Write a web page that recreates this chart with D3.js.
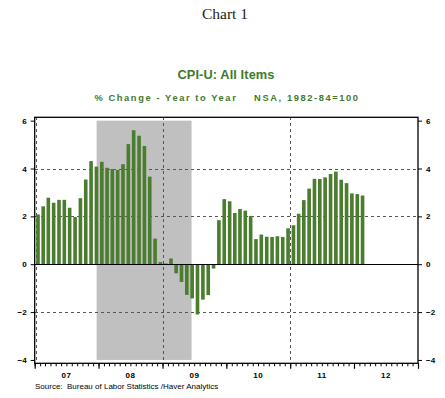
<!DOCTYPE html>
<html>
<head>
<meta charset="utf-8">
<script src="https://cdn.jsdelivr.net/npm/d3@7"></script>
<style>
  html, body { margin: 0; padding: 0; background: #fff; }
  svg { display: block; }
</style>
</head>
<body>
<svg id="chart" width="445" height="398"></svg>
<script>
// ---- data ----
const startMonth = "2007-01";
const values = [
  2.08, 2.42, 2.78, 2.57, 2.69, 2.69, 2.36, 1.97, 2.76, 3.54, 4.31, 4.08,
  4.28, 4.03, 3.98, 3.94, 4.18, 5.02, 5.60, 5.37, 4.94, 3.66, 1.07, 0.09,
  0.03, 0.24, -0.38, -0.74, -1.28, -1.43, -2.10, -1.48, -1.29, -0.18, 1.84, 2.72,
  2.63, 2.14, 2.31, 2.24, 2.02, 1.05, 1.24, 1.15, 1.14, 1.17, 1.14, 1.50,
  1.63, 2.11, 2.68, 3.16, 3.57, 3.56, 3.63, 3.77, 3.87, 3.53, 3.39, 2.96,
  2.93, 2.87
];
const recession = ["2007-12", "2009-06"];
const yearTicks = ["07", "08", "09", "10", "11", "12"];
const yTicks = [-4, -2, 0, 2, 4, 6];
const yGrid = [-2, 2, 4];
const xGridYears = [2007, 2009, 2011];
const titleText = "Chart 1";
const chartTitle = "CPI-U: All Items";
const subtitleLeft = "% Change - Year to Year";
const subtitleRight = "NSA, 1982-84=100";
const sourceText = "Source:  Bureau of Labor Statistics /Haver Analytics";

// ---- setup ----
const parseM = d3.timeParse("%Y-%m");
const start = parseM(startMonth);
const data = values.map((v, i) => ({ date: d3.timeMonth.offset(start, i), value: v }));

const svg = d3.select("#chart");
const L = 34.7, R = 418, T = 117.3, B = 363.3;
const green = "#4b7d2f";
const titleGreen = "#3f7a2a";

const x = d3.scaleTime()
  .domain([new Date(2007, 0, 1), new Date(2013, 0, 1)])
  .range([L, R]);
const y = d3.scaleLinear().domain([-4.14, 6.14]).range([B, T]);

const midMonth = d => {
  const a = x(d), b = x(d3.timeMonth.offset(d, 1));
  return (a + b) / 2;
};
const slot = (x(new Date(2013, 0, 1)) - x(new Date(2007, 0, 1))) / 72;
const barW = slot * 0.68;

// ---- titles ----
svg.append("text").attr("x", 225).attr("y", 19)
  .attr("text-anchor", "middle")
  .attr("font-family", "Liberation Serif, Times New Roman, serif")
  .attr("font-size", 15.5).attr("fill", "#222")
  .text(titleText);

svg.append("text").attr("x", 226).attr("y", 79)
  .attr("text-anchor", "middle")
  .attr("font-family", "Liberation Sans, Arial, sans-serif")
  .attr("font-size", 12.8).attr("fill", titleGreen)
  .attr("font-weight", "bold").attr("letter-spacing", 0.1)
  .text(chartTitle);

svg.append("text").attr("x", 227).attr("y", 101)
  .attr("text-anchor", "middle")
  .attr("font-family", "Liberation Sans, Arial, sans-serif")
  .attr("font-size", 9.3).attr("fill", titleGreen)
  .attr("font-weight", "bold").attr("letter-spacing", 1.6)
  .attr("xml:space", "preserve")
  .text(subtitleLeft + "    " + subtitleRight);

// ---- recession shading ----
const rs = parseM(recession[0]), re = parseM(recession[1]);
svg.append("rect")
  .attr("x", midMonth(rs) + 0.8)
  .attr("y", y(6))
  .attr("width", midMonth(re) - midMonth(rs) - 0.8)
  .attr("height", y(-4) - y(6))
  .attr("fill", "#c0c0c0");

// ---- grid ----
const grid = svg.append("g").attr("stroke", "#555").attr("stroke-width", 1)
  .attr("stroke-dasharray", "3,3").attr("shape-rendering", "crispEdges");
grid.selectAll("line.h").data(yGrid).join("line")
  .attr("x1", L).attr("x2", R)
  .attr("y1", d => Math.round(y(d)) + 0.5).attr("y2", d => Math.round(y(d)) + 0.5);
grid.selectAll("line.v").data(xGridYears).join("line")
  .attr("x1", (d, i) => Math.round(x(new Date(d, 0, 1))) + (i === 0 ? 1.5 : 0.5))
  .attr("x2", (d, i) => Math.round(x(new Date(d, 0, 1))) + (i === 0 ? 1.5 : 0.5))
  .attr("y1", T).attr("y2", B);

// ---- bars ----
svg.append("g").selectAll("rect").data(data).join("rect")
  .attr("x", d => midMonth(d.date) + 0.6 - barW / 2)
  .attr("width", barW)
  .attr("y", d => y(Math.max(0, d.value)))
  .attr("height", d => Math.abs(y(d.value) - y(0)))
  .attr("fill", green);

// ---- zero line ----
svg.append("line").attr("x1", L).attr("x2", R)
  .attr("y1", Math.round(y(0)) + 0.5).attr("y2", Math.round(y(0)) + 0.5)
  .attr("stroke", "#000").attr("stroke-width", 1.2);

// ---- frame ----
svg.append("rect").attr("x", L).attr("y", T).attr("width", R - L).attr("height", B - T)
  .attr("fill", "none").attr("stroke", "#000").attr("stroke-width", 1.3);

// ---- y axes ----
const yAxisL = d3.axisLeft(y).tickValues(yTicks).tickSize(4).tickPadding(4).tickFormat(d3.format("d"));
const yAxisR = d3.axisRight(y).tickValues(yTicks).tickSize(4).tickPadding(4).tickFormat(d3.format("d"));
const gl = svg.append("g").attr("transform", `translate(${L},0)`).call(yAxisL);
const gr = svg.append("g").attr("transform", `translate(${R},0)`).call(yAxisR);
[gl, gr].forEach(g => {
  g.select(".domain").remove();
  g.selectAll("line").attr("stroke", "#000").attr("stroke-width", 1);
  g.selectAll("text").attr("font-family", "Liberation Sans, Arial, sans-serif")
    .attr("font-size", 8).attr("font-weight", "bold").attr("fill", "#000");
});

// ---- x axis ----
const months = d3.timeMonth.range(new Date(2007, 0, 1), new Date(2013, 0, 2));
const xMinor = d3.axisBottom(x).tickValues(months).tickSize(3).tickFormat("");
const gxm = svg.append("g").attr("transform", `translate(0,${B})`).call(xMinor);
gxm.select(".domain").remove();
gxm.selectAll("line").attr("stroke", "#000");

const years = d3.timeYear.range(new Date(2007, 0, 1), new Date(2013, 0, 2));
const xMajor = d3.axisBottom(x).tickValues(years).tickSize(5.5).tickFormat("");
const gxM = svg.append("g").attr("transform", `translate(0,${B})`).call(xMajor);
gxM.select(".domain").remove();
gxM.selectAll("line").attr("stroke", "#000").attr("stroke-width", 1.2);

svg.append("g").selectAll("text").data(yearTicks).join("text")
  .attr("x", (d, i) => (x(new Date(2007 + i, 0, 1)) + x(new Date(2008 + i, 0, 1))) / 2)
  .attr("y", 378)
  .attr("text-anchor", "middle")
  .attr("font-family", "Liberation Sans, Arial, sans-serif")
  .attr("font-size", 8).attr("font-weight", "bold").attr("letter-spacing", 0.6)
  .text(d => d);

// ---- source ----
svg.append("text").attr("x", 35).attr("y", 389)
  .attr("font-family", "Liberation Sans, Arial, sans-serif")
  .attr("font-size", 8).attr("fill", "#000")
  .attr("xml:space", "preserve")
  .text(sourceText);
</script>
</body>
</html>
